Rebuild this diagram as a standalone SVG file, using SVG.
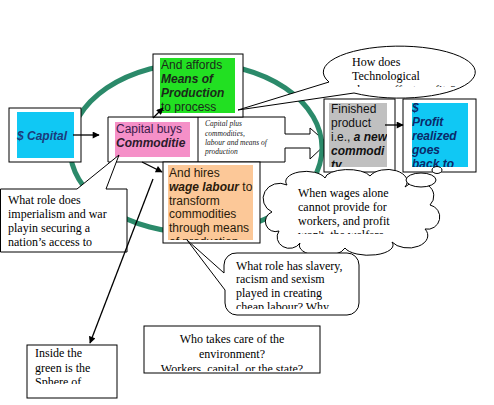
<svg xmlns="http://www.w3.org/2000/svg" width="494" height="405" viewBox="0 0 494 405">
<style>
.box{fill:#fff;stroke:#000;stroke-width:1}
.sans{font-family:"Liberation Sans",Arial,sans-serif;font-size:12px}
.serif{font-family:"Liberation Serif","Times New Roman",serif;font-size:12px;fill:#000}
.bi{font-weight:bold;font-style:italic}
.conn{stroke:#000;stroke-width:1.3;fill:none;marker-end:url(#ah)}
.thin{stroke:#000;stroke-width:1;fill:#fff}
</style>
<defs>
<marker id="ah" viewBox="0 0 10 10" refX="9" refY="5" markerWidth="8" markerHeight="7" orient="auto" markerUnits="userSpaceOnUse"><path d="M0,0 L10,5 L0,10 Z" fill="#000"/></marker>
<clipPath id="cMeans"><rect x="160" y="58" width="75" height="55"/></clipPath>
<clipPath id="cHires"><rect x="168" y="165" width="85" height="75"/></clipPath>
<clipPath id="cFin"><rect x="329" y="103" width="58" height="64"/></clipPath>
<clipPath id="cProf"><rect x="412" y="103" width="56" height="64"/></clipPath>
<clipPath id="cHow"><rect x="330" y="50" width="140" height="37"/></clipPath>
<clipPath id="cCloud"><rect x="290" y="180" width="140" height="54"/></clipPath>
<clipPath id="cSlav"><rect x="230" y="255" width="125" height="54"/></clipPath>
<clipPath id="cIns"><rect x="28" y="346" width="88" height="38"/></clipPath>
<clipPath id="cWho"><rect x="145" y="327" width="174" height="44"/></clipPath>
</defs>
<rect width="494" height="405" fill="#fff"/>

<g id="capital-buys">
<path class="box" d="M108,117 H285 V134 H310 V128 L327,143 L310,159 V148 H285 V162 H108 Z"/>
<line x1="198" y1="117" x2="198" y2="162" stroke="#000"/>
<rect x="115" y="122" width="75" height="35" fill="#f590c8"/>
<text class="sans" x="116" y="133" fill="#3b1b4b">Capital buys</text>
<text class="sans bi" x="116" y="147" fill="#2b1b2b">Commoditie</text>
<g font-family="Liberation Serif,serif" font-style="italic" font-size="7.5" fill="#222">
<text x="205" y="126">Capital plus</text>
<text x="205" y="136">commodities,</text>
<text x="205" y="145">labour and means of</text>
<text x="205" y="154">production</text>
</g>
</g>

<ellipse id="sphere" cx="196" cy="148" rx="126" ry="85" fill="none" stroke="#2b8a6a" stroke-width="5"/>

<g id="capital">
<rect class="box" x="9" y="108" width="72" height="54"/>
<rect x="17" y="112" width="57" height="46" fill="#10c8f4"/>
<text class="sans bi" x="17" y="140" font-size="11" fill="#1b3b7b">$ Capital</text>
</g>

<g id="means">
<rect class="box" x="153" y="54" width="90" height="63"/>
<rect x="160" y="58" width="75" height="55" fill="#22e022"/>
<g class="sans" fill="#1a2a1a" clip-path="url(#cMeans)">
<text x="161" y="69">And affords</text>
<text class="bi" x="161" y="83">Means of</text>
<text class="bi" x="161" y="97">Production</text>
<text x="161" y="111">to process</text>
</g>
</g>

<g id="hires">
<rect class="box" x="163" y="162" width="97" height="81"/>
<rect x="168" y="165" width="85" height="75" fill="#fcc898"/>
<g class="sans" fill="#2a1a0a" clip-path="url(#cHires)">
<text x="169" y="177">And hires</text>
<text x="169" y="191"><tspan class="bi">wage labour</tspan> to</text>
<text x="169" y="205">transform</text>
<text x="169" y="218">commodities</text>
<text x="169" y="232">through means</text>
<text x="169" y="246">of production</text>
</g>
</g>

<g id="finished">
<rect class="box" x="324" y="99" width="71" height="73"/>
<rect x="329" y="103" width="58" height="64" fill="#c0c0c0"/>
<g class="sans" fill="#111" clip-path="url(#cFin)">
<text x="331" y="113">Finished</text>
<text x="331" y="127">product</text>
<text x="331" y="141">i.e., <tspan class="bi">a new</tspan></text>
<text class="bi" x="331" y="155">commodi</text>
<text class="bi" x="331" y="169">ty</text>
</g>
</g>

<g id="profit">
<rect class="box" x="403" y="99" width="73" height="73"/>
<rect x="412" y="103" width="56" height="64" fill="#10c8f4"/>
<g class="sans bi" fill="#0a2a6a" clip-path="url(#cProf)">
<text x="412" y="112">$</text>
<text x="412" y="126">Profit</text>
<text x="412" y="140">realized</text>
<text x="412" y="154">goes</text>
<text x="412" y="168">back to</text>
</g>
</g>

<g id="technology">
<path class="thin" d="M329,82 L238,110 L354,93 A76,26 0 1 0 329,82 Z"/>
<g class="serif" clip-path="url(#cHow)">
<text x="352" y="66">How does</text>
<text x="352" y="80">Technological</text>
<text x="352" y="94">change affect profits?</text>
</g>
</g>

<g id="wages">
<path class="thin" d="M272,212 A14,13 0 0 1 287,185 A20,10 0 0 1 325,178 A23,9 0 0 1 370,176 A18,11 0 0 1 405,187 A14,12 0 0 1 430,205 A12,12 0 0 1 425,229 A17,11 0 0 1 392,242 A24,10 0 0 1 345,248 A22,10 0 0 1 300,243 A12,11 0 0 1 279,231 A10,10 0 0 1 272,212 Z"/>
<ellipse class="thin" cx="421" cy="180" rx="15" ry="7"/>
<ellipse class="thin" cx="437" cy="170" rx="5" ry="3.5"/>
<g class="serif" clip-path="url(#cCloud)">
<text x="298" y="197">When wages alone</text>
<text x="298" y="211">cannot provide for</text>
<text x="298" y="225">workers, and profit</text>
<text x="298" y="239">won't, the welfare</text>
</g>
</g>

<g id="slavery">
<path class="thin" d="M237,253 H347 A12,12 0 0 1 359,265 V303 A12,12 0 0 1 347,315 H237 A12,12 0 0 1 225,303 V290 L187,240 L224,273 V265 A12,12 0 0 1 237,253 Z"/>
<g class="serif" clip-path="url(#cSlav)">
<text x="236" y="270">What role has slavery,</text>
<text x="236" y="283">racism and sexism</text>
<text x="236" y="297">played in creating</text>
<text x="236" y="311">cheap labour?  Why</text>
</g>
</g>

<g id="imperialism">
<path class="thin" d="M0.5,189 H77 L119,155 L106,189 H127 V252 H0.5 Z"/>
<g class="serif">
<text x="8" y="204">What role does</text>
<text x="8" y="218">imperialism and war</text>
<text x="8" y="232">playin  securing a</text>
<text x="8" y="246">nation’s access to</text>
</g>
</g>

<g id="inside-green">
<rect class="box" x="27" y="345" width="90" height="53"/>
<g class="serif" clip-path="url(#cIns)">
<text x="35" y="357">Inside the</text>
<text x="35" y="372">green  is the</text>
<text x="35" y="386">Sphere of</text>
</g>
</g>

<g id="environment">
<rect class="box" x="144" y="326" width="176" height="47"/>
<g class="serif" text-anchor="middle" clip-path="url(#cWho)">
<text x="232" y="343">Who takes care of the</text>
<text x="232" y="358">environment?</text>
<text x="232" y="373">Workers, capital,  or the state?</text>
</g>
</g>

<g id="connectors">
<line class="conn" x1="73" y1="135" x2="99" y2="135"/>
<line class="conn" x1="153" y1="118" x2="163" y2="108"/>
<line class="conn" x1="142" y1="162" x2="162" y2="172"/>
<line class="conn" x1="385" y1="125" x2="403" y2="125"/>
<line class="conn" x1="153" y1="179" x2="90" y2="343"/>
</g>
</svg>
